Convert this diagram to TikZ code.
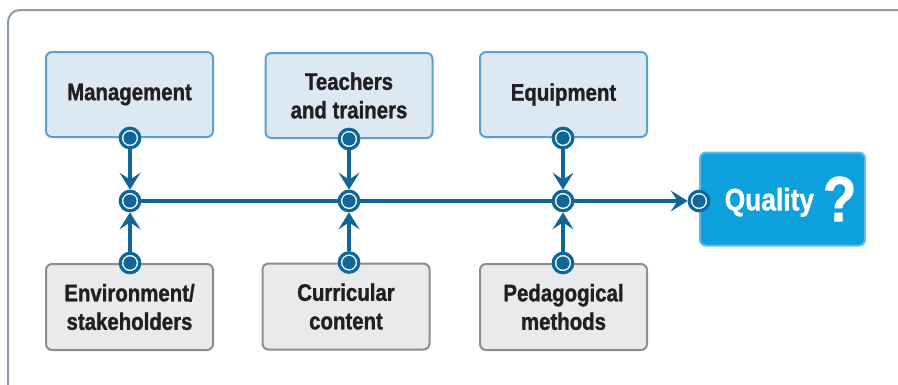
\documentclass[tikz,border=0pt]{standalone}
\usepackage{fontspec}
\setmainfont{Liberation Sans}[FakeStretch=0.85, BoldFeatures={FakeBold=1.2}]
\usetikzlibrary{arrows.meta}

\definecolor{linec}{RGB}{14,102,153}
\definecolor{upfill}{RGB}{220,232,242}
\definecolor{updraw}{RGB}{94,160,204}
\definecolor{lowfill}{RGB}{233,234,236}
\definecolor{lowdraw}{RGB}{140,141,143}
\definecolor{qfill}{RGB}{12,160,220}
\definecolor{qdraw}{RGB}{100,185,230}
\definecolor{framec}{RGB}{140,156,176}
\definecolor{textc}{RGB}{35,31,32}

\begin{document}
\begin{tikzpicture}[x=1pt, y=-1pt,
        box/.style = {rectangle, rounded corners=6pt, line width=2pt, minimum width=167pt,
                      minimum height=85pt, align=center, text=textc,
                      font=\bfseries\fontsize{24}{28.5}\selectfont},
        upper/.style = {box, fill=upfill, draw=updraw},
        lower/.style = {box, fill=lowfill, draw=lowdraw, minimum height=86pt},
        port/.style = {circle, draw=linec, fill=white, line width=3.2pt, inner sep=0pt,
                       minimum size=19.5pt,
                       path picture={\fill[linec] (path picture bounding box.center) circle (6.6pt);}},
        flow/.style = {draw=linec, line width=4pt,
                       -{Stealth[length=17pt, width=21pt, inset=7pt]}}]
        \useasboundingbox (0,0) rectangle (898,384);
        \draw[framec, line width=2pt, rounded corners=12pt] (8,10) rectangle (960,440);

        % input boxes
        \node[upper] (mgmt) at (129.5,94.5)  {Management};
        \node[upper] (teach) at (349,95.5)   {Teachers\\and trainers};
        \node[upper] (equip) at (563.5,94.5) {Equipment};
        \node[lower] (env) at (129.5,307)    {Environment/\\stakeholders};
        \node[lower] (curr) at (346,306.5)   {Curricular\\content};
        \node[lower] (peda) at (563.5,307)   {Pedagogical\\methods};

        % result
        \node[rectangle, rounded corners=6pt, line width=2pt, fill=qfill, draw=qdraw,
              minimum width=165pt, minimum height=93pt, text=white,
              font=\bfseries\fontsize{31}{31}\selectfont] (qual) at (782.5,199)
              {\hspace*{16pt}Quality\hspace{9pt}\raisebox{-11pt}{\fontsize{64}{64}\selectfont ?}};

        % ports and junctions
        \node[port] (j1) at (130,201) {};
        \node[port] (j2) at (349,201) {};
        \node[port] (j3) at (563,201) {};
        \node[port] (qp) at (qual.west |- j1) {};
        \node[port] (mp) at (j1 |- mgmt.south) {};
        \node[port] (tp) at (j2 |- teach.south) {};
        \node[port] (ep) at (j3 |- equip.south) {};
        \node[port] (envp) at (j1 |- env.north) {};
        \node[port] (cp) at (j2 |- curr.north) {};
        \node[port] (pp) at (j3 |- peda.north) {};

        \draw[flow] (mp) -- (j1);
        \draw[flow] (tp) -- (j2);
        \draw[flow] (ep) -- (j3);
        \draw[flow] (envp) -- (j1);
        \draw[flow] (cp) -- (j2);
        \draw[flow] (pp) -- (j3);
        \draw[flow, -] (j1) -- (j2);
        \draw[flow, -] (j2) -- (j3);
        \draw[flow] (j3) -- (qp);
\end{tikzpicture}
\end{document}
